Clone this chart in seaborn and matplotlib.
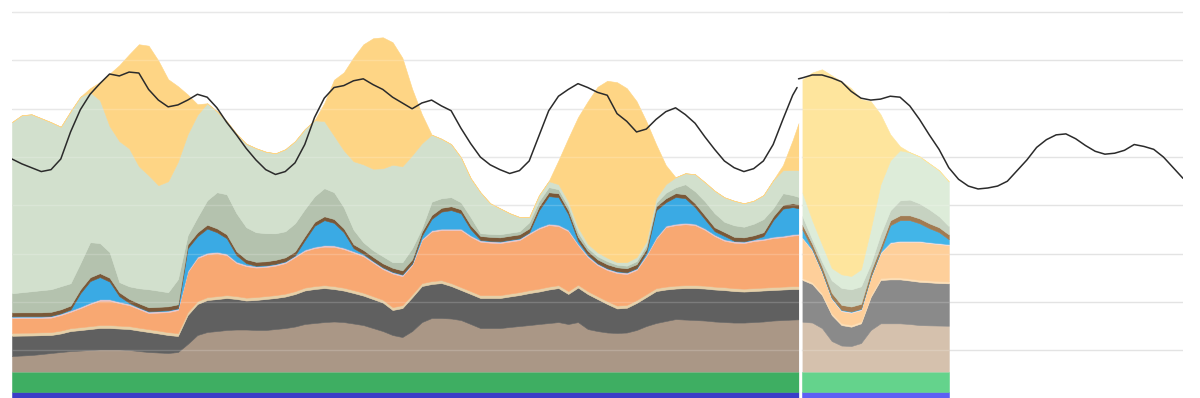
import numpy as np
import matplotlib
matplotlib.use("Agg")
import matplotlib.pyplot as plt
import seaborn as sns

sns.set_theme(style="white")
plt.rcParams['font.family'] = ['DejaVu Sans']

# ---------------- data (GW) ----------------
# measured generation, hourly up to "now" (80.6 h)
actual_hours = list(range(0, 81)) + [80.6]
N = len(actual_hours)

imports = [0.71] * N
biomass = [2.09] * N
nuclear = [1.60, 1.66, 1.71, 1.81, 1.92, 2.02, 2.12, 2.17, 2.23, 2.28,
           2.28, 2.28, 2.23, 2.12, 2.02, 1.97, 1.92, 2.02, 2.85, 3.78,
           4.09, 4.19, 4.30, 4.35, 4.35, 4.30, 4.30, 4.40, 4.50, 4.66,
           4.92, 5.02, 5.12, 5.18, 5.12, 4.97, 4.81, 4.50, 4.19, 3.78,
           3.57, 4.19, 5.12, 5.54, 5.54, 5.49, 5.33, 4.92, 4.50, 4.50,
           4.50, 4.61, 4.71, 4.81, 4.92, 5.02, 5.12, 4.92, 5.12, 4.40,
           4.19, 4.04, 3.99, 4.04, 4.30, 4.71, 5.02, 5.23, 5.43, 5.38,
           5.33, 5.28, 5.18, 5.12, 5.07, 5.07, 5.12, 5.18, 5.28, 5.33,
           5.38, 5.40]
coal = [2.10, 2.06, 2.02, 1.95, 1.86, 1.92, 2.07, 2.12, 2.17, 2.23,
        2.23, 2.17, 2.17, 2.12, 2.07, 1.97, 1.86, 1.66, 3.00, 3.21,
        3.31, 3.31, 3.31, 3.16, 3.00, 3.11, 3.21, 3.21, 3.26, 3.36,
        3.47, 3.52, 3.52, 3.36, 3.26, 3.16, 3.05, 3.00, 2.95, 2.59,
        3.00, 3.49, 3.73, 3.52, 3.62, 3.36, 3.11, 3.11, 3.11, 3.11,
        3.11, 3.16, 3.21, 3.31, 3.36, 3.47, 3.52, 3.11, 3.57, 3.62,
        3.31, 2.95, 2.54, 2.56, 2.80, 3.00, 3.31, 3.26, 3.16, 3.26,
        3.31, 3.31, 3.31, 3.31, 3.26, 3.21, 3.21, 3.21, 3.16, 3.16,
        3.16, 3.14]
oil = [0.30] * N
gas = [1.52, 1.51, 1.50, 1.47, 1.50, 1.60, 1.69, 1.97, 2.28, 2.52,
       2.52, 2.33, 2.17, 1.92, 1.66, 1.86, 2.07, 2.38, 4.14, 4.45,
       4.45, 4.45, 4.14, 3.42, 3.26, 3.05, 3.00, 3.05, 3.16, 3.52,
       3.78, 3.93, 3.99, 4.07, 3.99, 3.88, 3.78, 3.47, 3.16, 3.47,
       3.00, 3.03, 4.45, 5.12, 5.18, 5.49, 5.90, 5.62, 5.52, 5.43,
       5.38, 5.38, 5.38, 5.80, 6.21, 6.37, 6.11, 6.21, 4.09, 3.52,
       3.21, 3.21, 3.36, 3.19, 3.11, 3.93, 5.12, 6.16, 6.26, 6.31,
       6.21, 5.78, 5.23, 4.81, 4.71, 4.71, 4.87, 4.92, 5.07, 5.12,
       5.23, 5.28]
other = [0.15] * N
hydro = [0.05, 0.05, 0.05, 0.05, 0.05, 0.05, 0.10, 1.40, 2.23, 2.30,
         1.83, 0.57, 0.10, 0.05, 0.05, 0.05, 0.05, 0.05, 2.33, 2.12,
         2.50, 2.02, 1.60, 0.67, 0.16, 0.05, 0.05, 0.05, 0.05, 0.05,
         0.98, 2.17, 2.59, 2.33, 1.60, 0.31, 0.10, 0.05, 0.05, 0.05,
         0.05, 0.05, 0.31, 1.17, 1.76, 1.92, 1.60, 0.64, 0.05, 0.05,
         0.05, 0.05, 0.05, 0.05, 1.76, 2.85, 2.85, 1.60, 0.31, 0.10,
         0.05, 0.05, 0.05, 0.05, 0.05, 0.21, 2.80, 2.43, 2.77, 2.54,
         1.71, 0.95, 0.36, 0.35, 0.05, 0.05, 0.05, 0.26, 1.71, 2.80,
         2.80, 2.64]
pumped = [0.40] * N
wind_offshore = [1.98, 2.08, 2.18, 2.29, 2.34, 2.39, 2.31, 2.70, 3.63, 3.12,
                 2.65, 1.05, 1.30, 1.56, 1.87, 1.67, 1.46, 2.60, 0.94, 1.56,
                 2.53, 3.74, 4.15, 3.94, 3.32, 3.06, 2.91, 2.75, 2.70, 2.91,
                 2.81, 2.65, 2.91, 2.77, 2.18, 1.51, 0.79, 0.68, 0.73, 0.58,
                 0.84, 1.15, 0.37, 1.38, 0.99, 0.94, 0.73, 0.84, 0.29, 0.31,
                 0.32, 0.32, 0.32, 0.63, 0.53, 0.53, 0.42, 0.42, 0.48, 0.32,
                 0.32, 0.32, 0.27, 0.27, 0.32, 0.37, 0.37, 0.58, 0.60, 1.05,
                 1.25, 1.46, 1.46, 1.06, 1.20, 1.10, 1.20, 1.36, 0.84, 1.20,
                 0.84, 0.77]
wind = [17.73, 18.32, 18.32, 17.80, 17.29, 16.51, 17.80, 17.23, 15.53, 14.80,
        13.04, 14.60, 14.28, 12.63, 11.80, 10.92, 11.49, 12.16, 10.46, 10.61,
        10.04, 8.38, 7.56, 8.23, 8.64, 8.70, 8.44, 8.28, 8.49, 8.49,
        8.28, 7.87, 6.94, 5.85, 5.90, 7.09, 8.07, 8.44, 9.11, 10.09,
        9.94, 9.63, 8.80, 6.94, 6.16, 5.49, 4.66, 4.04, 4.24, 3.17,
        2.69, 2.02, 1.48, 0.52, 0.62, 0.62, 0.52, 0.52, 0.52, 0.41,
        0.41, 0.36, 0.26, 0.36, 0.41, 0.41, 0.47, 0.88, 1.04, 1.14,
        1.76, 1.97, 2.33, 2.54, 2.54, 2.43, 2.38, 2.48, 2.90, 2.38,
        2.59, 2.76]
solar = [0, 0, 0, 0, 0, 0, 0, 0, 0.41, 1.86,
         5.43, 7.87, 9.73, 12.63, 13.41, 12.89, 10.56, 7.82, 4.11, 1.09,
         0, 0, 0, 0, 0, 0, 0, 0, 0, 0,
         0, 0, 1.86, 5.80, 8.07, 10.76, 12.42, 13.51, 13.56, 12.68,
         11.23, 6.88, 3.00, 0, 0, 0, 0, 0, 0, 0,
         0, 0, 0, 0, 0, 0, 2.48, 6.52, 11.39, 14.75,
         17.13, 18.32, 18.63, 18.01, 16.15, 12.42, 5.59, 1.97, 0, 0,
         0, 0, 0, 0, 0, 0, 0, 0, 0, 0.52,
         3.11, 4.87]

# forecast generation, hourly
forecast_hours = list(range(81, 97))
M = len(forecast_hours)
f_imports = [0.71] * M
f_biomass = [2.09] * M
f_nuclear = [5.16, 5.07, 4.50, 3.16, 2.69, 2.64, 2.95, 4.30, 4.99, 4.99, 4.99, 4.92, 4.81, 4.78, 4.76, 4.74]
f_coal = [4.32, 3.99, 3.42, 2.69, 2.12, 2.00, 2.04, 3.42, 4.48, 4.55, 4.55, 4.50, 4.48, 4.45, 4.40, 4.39]
f_oil = [0.20] * M
f_gas = [4.11, 3.26, 2.12, 1.45, 1.24, 1.24, 1.17, 1.80, 2.59, 3.55, 3.69, 3.81, 3.93, 3.86, 3.83, 3.76]
f_other = [0.10] * M
f_hydro = [0.80, 0.10, 0.05, 0.05, 0.05, 0.05, 0.05, 0.05, 0.10, 1.76, 2.14, 2.14, 1.83, 1.45, 1.14, 0.50]
f_pumped = [0.50] * M
f_wind_offshore = [0.89, 0.47, 0.52, 1.29, 1.76, 1.78, 1.81, 0.78, 1.24, 1.04, 1.55, 1.63, 1.55, 1.45, 1.14, 0.86]
f_wind = [2.45, 1.97, 1.76, 1.28, 1.40, 1.38, 1.76, 3.62, 5.18, 5.18, 5.18, 4.90, 4.87, 4.76, 4.76, 4.63]
f_solar = [11.70, 15.29, 18.12, 19.94, 19.98, 19.43, 17.60, 13.21, 7.25, 2.69, 0.41, 0, 0, 0, 0, 0]

# demand: measured (to now) and forecast
demand_actual_hours = list(range(0, 81)) + [80.45]
demand_actual = [24.8, 24.3, 23.9, 23.5, 23.7, 24.8, 27.6, 29.9, 31.5, 32.6,
                 33.6, 33.4, 33.8, 33.7, 32.0, 30.9, 30.2, 30.4, 30.9, 31.5,
                 31.2, 30.1, 28.6, 27.3, 25.9, 24.7, 23.7, 23.2, 23.5, 24.4,
                 26.3, 29.1, 31.1, 32.2, 32.4, 32.9, 33.1, 32.5, 32.0, 31.2,
                 30.6, 30.0, 30.6, 30.9, 30.3, 29.8, 28.0, 26.4, 25.0, 24.2,
                 23.7, 23.3, 23.6, 24.6, 27.2, 29.8, 31.3, 32.0, 32.6, 32.2,
                 31.7, 31.4, 29.5, 28.7, 27.6, 27.9, 28.9, 29.7, 30.1, 29.4,
                 28.5, 27.1, 25.8, 24.6, 23.9, 23.5, 23.8, 24.6, 26.3, 28.9,
                 31.4, 32.2]
demand_forecast_hours = [80.6] + list(range(81, 121))
demand_forecast = [33.1,
                   33.2, 33.5, 33.5, 33.2, 32.8, 31.8, 31.1, 30.9, 31.0,
                   31.3, 31.2, 30.3, 28.9, 27.3, 25.8, 23.9, 22.7, 22.0, 21.7,
                   21.8, 22.0, 22.5, 23.6, 24.7, 26.0, 26.8, 27.3, 27.4, 26.9,
                   26.2, 25.6, 25.3, 25.4, 25.7, 26.3, 26.1, 25.8, 25.0, 23.9,
                   22.8]

now_hour = 80.75
grid_levels = [5, 10, 15, 20, 25, 30, 35, 40]

actual_colors = ["#3b3dc8", "#3eae62", "#aa9786", "#606060", "#e6d0a8", "#f8a872",
                 "#e8c6cc", "#3aaae4", "#7a5838", "#b4c2ae", "#d2e0cd", "#fed585"]
forecast_colors = ["#5d5ff4", "#64d38c", "#d5c1ad", "#8a8a8a", "#fde0b8", "#fecf9a",
                   "#f3dde0", "#42b5e8", "#a27b52", "#c6d2c1", "#ddecd9", "#fee59d"]

actual_series = [imports, biomass, nuclear, coal, oil, gas, other, hydro, pumped,
                 wind_offshore, wind, solar]
forecast_series = [f_imports, f_biomass, f_nuclear, f_coal, f_oil, f_gas, f_other,
                   f_hydro, f_pumped, f_wind_offshore, f_wind, f_solar]

# ---------------- figure ----------------
fig = plt.figure(figsize=(12, 3.98), dpi=100)
ax = fig.add_axes([12 / 1200, 0, 1171 / 1200, 1])
ax.set_xlim(0, 120)
ax.set_ylim(0.06, 41.26)
ax.set_yticks(grid_levels)
ax.set_xticks([])
ax.yaxis.grid(True, color="#e3e3e3", lw=1)
ax.set_axisbelow(True)
ax.tick_params(left=False, bottom=False, labelleft=False, labelbottom=False)
for s in ax.spines.values():
    s.set_visible(False)

ax.stackplot(actual_hours, *actual_series,
             colors=actual_colors, linewidth=0.4, edgecolor="face", zorder=1)
ax.stackplot(forecast_hours, *forecast_series,
             colors=forecast_colors, linewidth=0.4, edgecolor="face", zorder=1)

# faint gridlines showing through the areas
ax.hlines(grid_levels, 0, max(forecast_hours), colors="white", alpha=0.18, lw=1, zorder=2)

# "now" separator over the stacked areas
stack_top_now = sum(s[-1] for s in actual_series)
ax.vlines(now_hour, 0, stack_top_now, colors="white", lw=1.9, zorder=3)

sns.lineplot(x=demand_actual_hours, y=demand_actual, ax=ax, color="#2b2b2b", lw=1.1, zorder=4)
sns.lineplot(x=demand_forecast_hours, y=demand_forecast, ax=ax, color="#2b2b2b", lw=1.1, zorder=4)

fig.savefig("out.png", dpi=100, facecolor="white")
